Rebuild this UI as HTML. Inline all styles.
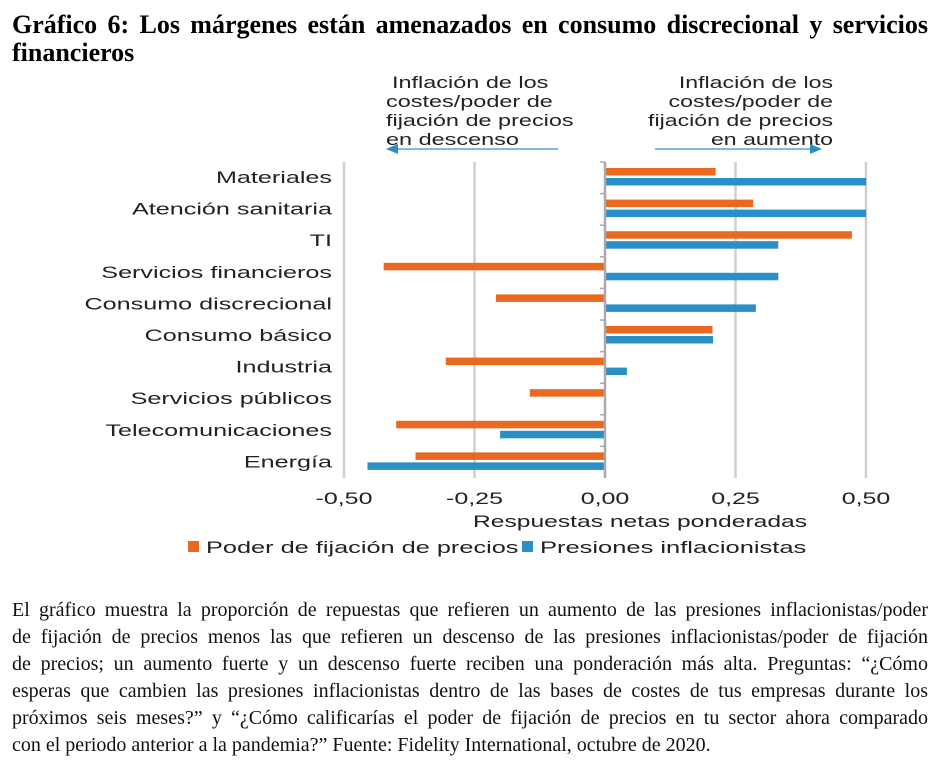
<!DOCTYPE html>
<html><head><meta charset="utf-8">
<style>
body{margin:0;width:938px;height:770px;background:#fff;position:relative;overflow:hidden}
#title{position:absolute;left:12px;top:11px;width:916px;font:bold 26px/28px "Liberation Serif",serif;text-align:justify;text-align-last:left;color:#000}
#para{position:absolute;left:12px;top:597px;width:916px;font:20px/27px "Liberation Serif",serif;color:#111;white-space:nowrap}
#para span{display:block;text-align:justify;text-align-last:justify}
#para span.last{text-align-last:left}
svg{position:absolute;left:0;top:0}
svg text{font-family:"Liberation Sans",sans-serif;fill:#222}
</style></head><body>
<div id="title">Gráfico 6: Los márgenes están amenazados en consumo discrecional y servicios financieros</div>
<svg id="chart" width="938" height="580"></svg>
<div id="para"><span>El gráfico muestra la proporción de repuestas que refieren un aumento de las presiones inflacionistas/poder</span><span>de fijación de precios menos las que refieren un descenso de las presiones inflacionistas/poder de fijación</span><span>de precios; un aumento fuerte y un descenso fuerte reciben una ponderación más alta. Preguntas: “¿Cómo</span><span>esperas que cambien las presiones inflacionistas dentro de las bases de costes de tus empresas durante los</span><span>próximos seis meses?” y “¿Cómo calificarías el poder de fijación de precios en tu sector ahora comparado</span><span class="last">con el periodo anterior a la pandemia?” Fuente: Fidelity International, octubre de 2020.</span></div>
<script>
const categories=["Materiales","Atención sanitaria","TI","Servicios financieros","Consumo discrecional","Consumo básico","Industria","Servicios públicos","Telecomunicaciones","Energía"];
const pricingPower=[0.212,0.284,0.473,-0.424,-0.209,0.206,-0.305,-0.144,-0.400,-0.363];
const inflationPressure=[0.50,0.50,0.332,0.332,0.289,0.207,0.042,0,-0.201,-0.455];
const ticks=[-0.5,-0.25,0,0.25,0.5];
const tickLabels=["-0,50","-0,25","0,00","0,25","0,50"];
const NS="http://www.w3.org/2000/svg";
const svg=document.getElementById('chart');
const x=v=>605+v*522;
const top0=162,band=31.6;
function mk(t,a,txt){const e=document.createElementNS(NS,t);for(const k in a)e.setAttribute(k,a[k]);if(txt!==undefined)e.textContent=txt;svg.appendChild(e);return e;}
function tx(px,py,anchor,sx,s){const e=mk('text',{x:0,y:0,'text-anchor':anchor,'font-size':17,transform:`translate(${px},${py}) scale(${sx},1)`},s);return e;}
ticks.forEach((t,i)=>{
 if(t!==0){const g=mk('line',{x1:x(t),x2:x(t),y1:top0,y2:top0+band*10,stroke:'#cfcfcf','stroke-width':2.5});
 
 }
 const l=tx(x(t),504,'middle',1.47,tickLabels[i]);
 
 
});
categories.forEach((c,i)=>{
 const y0=top0+i*band;
 const lab=tx(332,y0+21,'end',1.48,c);
 
 
 const v1=pricingPower[i],v2=inflationPressure[i];
 const b1=mk('rect',{x:Math.min(x(0),x(v1)),y:y0+6,width:Math.abs(x(v1)-x(0)),height:7.5,fill:'#E8691F'});
 
 
 const b2=mk('rect',{x:Math.min(x(0),x(v2)),y:y0+16,width:Math.abs(x(v2)-x(0)),height:7.5,fill:'#2A8FC4'});
 
 
 const tk=mk('line',{x1:x(0)-5,x2:x(0),y1:y0,y2:y0,stroke:'#aaa','stroke-width':1.5});
 
 
});
const ax=mk('line',{x1:x(0),x2:x(0),y1:top0,y2:top0+band*10,stroke:'#aaa','stroke-width':2.5});


const at=tx(640,527,'middle',1.45,'Respuestas netas ponderadas');


const notes=[["Inflación de los","costes/poder de","fijación de precios","en descenso"],["Inflación de los","costes/poder de","fijación de precios","en aumento"]];
notes[0].forEach((s,i)=>{const t=tx([392,386,386,386][i],88+i*19,'start',1.38,s);});
notes[1].forEach((s,i)=>{const t=tx(833,88+i*19,'end',1.36,s);});
const a1=mk('path',{d:'M396 149 H558',stroke:'#3a8fc0','stroke-width':1.2});


const a1h=mk('path',{d:'M386 149 L398 144 L398 154 Z',fill:'#2A8FC4'});


const a2=mk('path',{d:'M655 149 H812',stroke:'#3a8fc0','stroke-width':1.2});


const a2h=mk('path',{d:'M822 149 L810 144 L810 154 Z',fill:'#2A8FC4'});


const s1=mk('rect',{x:188,y:541,width:11,height:11,fill:'#E8691F'});


const l1=tx(206,553,'start',1.49,'Poder de fijación de precios');


const s2=mk('rect',{x:522,y:541,width:11,height:11,fill:'#2A8FC4'});


const l2=tx(540,553,'start',1.5,'Presiones inflacionistas');


</script>
</body></html>
